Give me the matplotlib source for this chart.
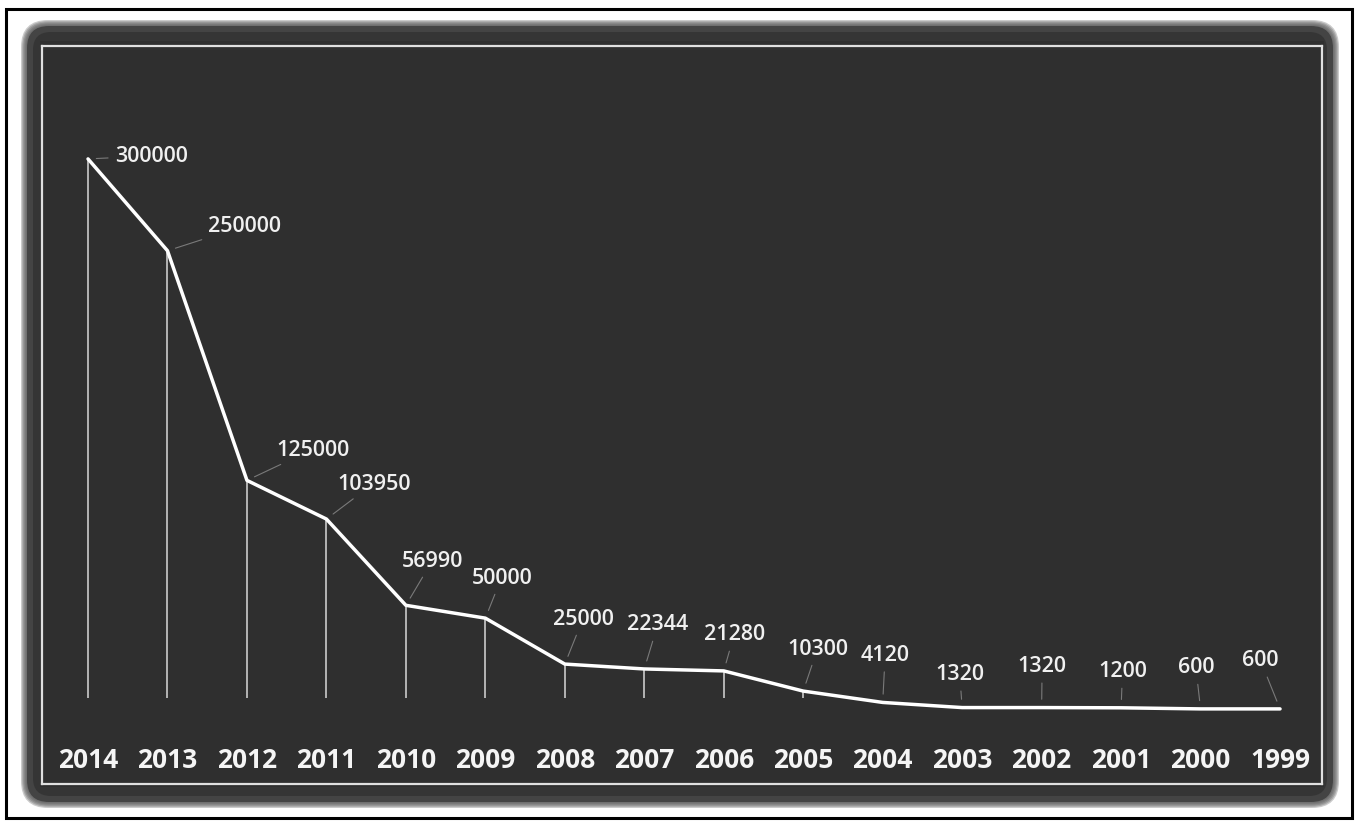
import matplotlib.pyplot as plt
from matplotlib.patches import Rectangle, FancyBboxPatch

plt.rcParams['font.family'] = ['Open Sans', 'DejaVu Sans']

# 数据
years = ['2014', '2013', '2012', '2011', '2010', '2009', '2008', '2007',
         '2006', '2005', '2004', '2003', '2002', '2001', '2000', '1999']
values = [300000, 250000, 125000, 103950, 56990, 50000, 25000, 22344,
          21280, 10300, 4120, 1320, 1320, 1200, 600, 600]

# 标签偏移 (像素)
offsets = [(27, 3), (41, 25), (29, 31), (11, 36), (-4, 45), (-14, 41),
           (-12, 46), (-17, 45), (-20, 37), (-16, 43), (-22, 48), (-27, 34),
           (-24, 42), (-23, 37), (-23, 42), (-38, 49)]

fig = plt.figure(figsize=(13.66, 8.28), dpi=100)
fig.patch.set_facecolor('white')

# 背景层 (像素坐标)
bg = fig.add_axes([0, 0, 1, 1])
bg.set_xlim(0, 1366)
bg.set_ylim(828, 0)
bg.axis('off')
bg.add_patch(Rectangle((6, 10), 1346, 809, fill=False, edgecolor='black', lw=2.2))
for i in range(5, 0, -1):
    bg.add_patch(FancyBboxPatch((27 - i * 1.2, 27 - i * 1.2), 1306 + i * 2.4, 776 + i * 2.4,
                                boxstyle='round,pad=0,rounding_size=%d' % (22 + i),
                                facecolor='#555555', edgecolor='none', alpha=0.3))
bg.add_patch(FancyBboxPatch((27, 27), 1306, 776, boxstyle='round,pad=0,rounding_size=22',
                            facecolor='#444444', edgecolor='none'))
bg.add_patch(FancyBboxPatch((33, 33), 1294, 764, boxstyle='round,pad=0,rounding_size=18',
                            facecolor='#353535', edgecolor='none'))
bg.add_patch(Rectangle((40, 42), 1284, 746, facecolor='#2f2f2f', edgecolor='none'))

# 主图
ax = fig.add_axes([42 / 1366, (828 - 785) / 828, 1280 / 1366, 738 / 828])
ax.set_facecolor('none')
x = list(range(len(years)))
ax.set_xlim(-0.579, 15.528)
ax.set_ylim(-40283, 361459)
for s in ax.spines.values():
    s.set_color('#e0e0e0')
    s.set_linewidth(1.6)
ax.set_xticks([])
ax.set_yticks([])

# 垂线
drop_x = [i for i in x if values[i] > 6500]
drop_top = [values[i] for i in drop_x]
ax.vlines(drop_x, 6500, drop_top, color='#d8d8d8', lw=1.1, zorder=2)

ax.plot(x, values, color='white', lw=2.5, solid_capstyle='round', zorder=3)

for i in x:
    ax.annotate(str(values[i]), xy=(i, values[i]), xytext=offsets[i],
                textcoords='offset pixels', ha='left', va='center',
                color='#f0f0f0', fontsize=15.5, fontweight='semibold',
                arrowprops=dict(arrowstyle='-', color='#7a7a7a', lw=0.8,
                                shrinkA=3, shrinkB=6))
    ax.text(i, -26674, years[i], ha='center', va='center', color='#f5f5f5',
            fontsize=19, fontweight='bold')

plt.savefig('out.png', dpi=100)
